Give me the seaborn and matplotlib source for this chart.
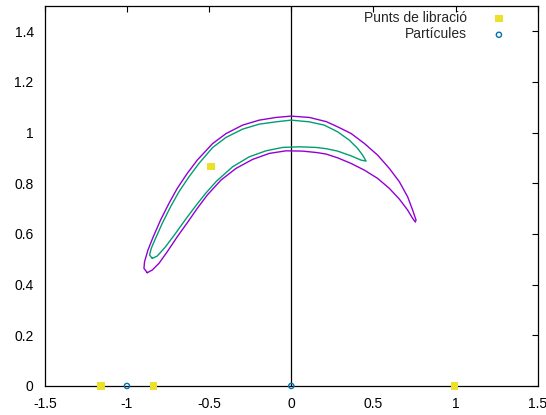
import matplotlib
matplotlib.use("Agg")
import matplotlib.pyplot as plt
import seaborn as sns
import pandas as pd

# Outer (purple) closed curve
outer_x = [-0.8764, -0.8965, -0.8929, -0.8722, -0.8399, -0.7955, -0.7444, -0.6939, -0.6330, -0.5721,
           -0.4790, -0.3974, -0.2964, -0.1948, -0.0931, -0.0018, 0.1096, 0.2130, 0.2818, 0.3634,
           0.4443, 0.5253, 0.5965, 0.6573, 0.7079, 0.7383, 0.7590, 0.7547,
           0.7383, 0.7079, 0.6573, 0.5965, 0.5253, 0.4443, 0.3634, 0.2818, 0.2130, 0.1582,
           0.0688, -0.0323, -0.1339, -0.2355, -0.3366, -0.4279, -0.5113, -0.5721, -0.6330,
           -0.6939, -0.7547, -0.8052, -0.8460, -0.8764]
outer_y = [0.4468, 0.4641, 0.4901, 0.5363, 0.5887, 0.6546, 0.7204, 0.7796, 0.8387, 0.8912,
           0.9562, 0.9957, 1.0292, 1.0489, 1.0595, 1.0647, 1.0595, 1.0430, 1.0225, 0.9964,
           0.9570, 0.9109, 0.8584, 0.8060, 0.7465, 0.6940, 0.6546, 0.6467,
           0.6613, 0.6940, 0.7374, 0.7796, 0.8190, 0.8517, 0.8782, 0.9002, 0.9148, 0.9207,
           0.9267, 0.9278, 0.9176, 0.8939, 0.8584, 0.8123, 0.7532, 0.7007, 0.6439,
           0.5887, 0.5296, 0.4838, 0.4574, 0.4468]

# Inner (green) closed curve
inner_x = [-0.8460, -0.8625, -0.8521, -0.8259, -0.7852, -0.7346, -0.6835, -0.6226, -0.5618, -0.4790,
           -0.3974, -0.2964, -0.1948, -0.0931, -0.0018, 0.1096, 0.2009, 0.2818, 0.3530, 0.4035,
           0.4340, 0.4547,
           0.4242, 0.3634, 0.2818, 0.2130, 0.1503, 0.0487, -0.0530, -0.1540, -0.2556, -0.3573,
           -0.4547, -0.5216, -0.5825, -0.6433, -0.7042, -0.7651, -0.8156, -0.8460]
inner_y = [0.5035, 0.5166, 0.5430, 0.5824, 0.6416, 0.7070, 0.7662, 0.8253, 0.8781, 0.9405,
           0.9807, 1.0134, 1.0331, 1.0422, 1.0489, 1.0422, 1.0292, 1.0028, 0.9700, 0.9373,
           0.9109, 0.8872,
           0.8912, 0.9081, 0.9267, 0.9361, 0.9412, 0.9436, 0.9412, 0.9278, 0.9042, 0.8647,
           0.8084, 0.7599, 0.7098, 0.6573, 0.6021, 0.5493, 0.5126, 0.5035]

# Lagrange points
lib_x = [-1.157, -0.839, 0.995, -0.4875]
lib_y = [0.0, 0.0, 0.0, 0.866]

# Particles
part_x = [-1.0, 0.0]
part_y = [0.0, 0.0]

x_ticks = [-1.5, -1, -0.5, 0, 0.5, 1, 1.5]
y_ticks = [0, 0.2, 0.4, 0.6, 0.8, 1, 1.2, 1.4]
x_ticklabels = ["-1.5", "-1", "-0.5", "0", "0.5", "1", "1.5"]
y_ticklabels = ["0", "0.2", "0.4", "0.6", "0.8", "1", "1.2", "1.4"]

sns.set_theme(style="white")
plt.rcParams["font.family"] = ["Liberation Sans", "DejaVu Sans"]

fig = plt.figure(figsize=(5.46, 4.15), dpi=100)
ax = fig.add_axes([0.082, 0.070, 0.903, 0.916])

ax.axvline(0, color="black", lw=0.9, zorder=1)

df_o = pd.DataFrame({"x": outer_x, "y": outer_y})
df_i = pd.DataFrame({"x": inner_x, "y": inner_y})
sns.lineplot(data=df_o, x="x", y="y", sort=False, estimator=None, color="#9400d3", lw=1.0,
             solid_joinstyle="round", ax=ax)
sns.lineplot(data=df_i, x="x", y="y", sort=False, estimator=None, color="#009e73", lw=1.0,
             solid_joinstyle="round", ax=ax)

sns.scatterplot(x=lib_x, y=lib_y, marker="s", s=28, color="#ece12a", edgecolor="none",
                label="Punts de libració", ax=ax, zorder=5, clip_on=False)
sns.scatterplot(x=part_x, y=part_y, marker="o", s=14, facecolor="none", edgecolor="#0072b2",
                linewidth=1.0, label="Partícules", ax=ax, zorder=6, clip_on=False)

ax.set_xlim(-1.5, 1.5)
ax.set_ylim(0, 1.5)
ax.set_xticks(x_ticks)
ax.set_xticklabels(x_ticklabels)
ax.set_yticks(y_ticks)
ax.set_yticklabels(y_ticklabels)
ax.set_xlabel("")
ax.set_ylabel("")
ax.tick_params(direction="in", length=4, width=0.8, top=True, right=True,
               labelsize=10, colors="black")
ax.tick_params(axis="y", pad=8)
ax.tick_params(axis="x", pad=8)
for s in ax.spines.values():
    s.set_color("black")
    s.set_linewidth(0.9)

leg = ax.legend(loc="upper right", frameon=False, markerfirst=False, fontsize=10,
                handletextpad=1.3, borderaxespad=0.3, labelspacing=0.15,
                bbox_to_anchor=(0.969, 1.011))

fig.savefig("out.png", dpi=100)
